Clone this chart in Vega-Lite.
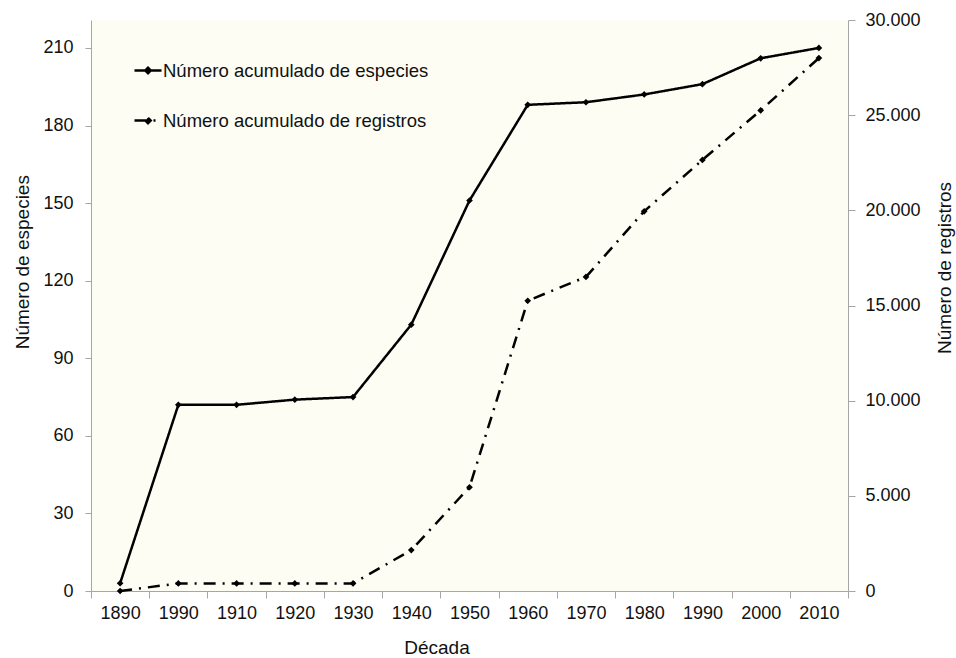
{
  "$schema": "https://vega.github.io/schema/vega-lite/v6.json",
  "width": 757,
  "height": 571,
  "autosize": {"type": "none"},
  "padding": {"left": 91, "top": 20, "right": 108, "bottom": 67},
  "background": "white",
  "datasets": {
    "especies": [
      {"decada": "1890", "serie": "Número acumulado de especies", "valor": 3},
      {"decada": "1990 ", "serie": "Número acumulado de especies", "valor": 72},
      {"decada": "1910", "serie": "Número acumulado de especies", "valor": 72},
      {"decada": "1920", "serie": "Número acumulado de especies", "valor": 74},
      {"decada": "1930", "serie": "Número acumulado de especies", "valor": 75},
      {"decada": "1940", "serie": "Número acumulado de especies", "valor": 103},
      {"decada": "1950", "serie": "Número acumulado de especies", "valor": 151},
      {"decada": "1960", "serie": "Número acumulado de especies", "valor": 188},
      {"decada": "1970", "serie": "Número acumulado de especies", "valor": 189},
      {"decada": "1980", "serie": "Número acumulado de especies", "valor": 192},
      {"decada": "1990", "serie": "Número acumulado de especies", "valor": 196},
      {"decada": "2000", "serie": "Número acumulado de especies", "valor": 206},
      {"decada": "2010", "serie": "Número acumulado de especies", "valor": 210}
    ],
    "registros": [
      {"decada": "1890", "serie": "Número acumulado de registros", "valor": 0},
      {"decada": "1990 ", "serie": "Número acumulado de registros", "valor": 400},
      {"decada": "1910", "serie": "Número acumulado de registros", "valor": 400},
      {"decada": "1920", "serie": "Número acumulado de registros", "valor": 400},
      {"decada": "1930", "serie": "Número acumulado de registros", "valor": 400},
      {"decada": "1940", "serie": "Número acumulado de registros", "valor": 2150},
      {"decada": "1950", "serie": "Número acumulado de registros", "valor": 5450},
      {"decada": "1960", "serie": "Número acumulado de registros", "valor": 15250},
      {"decada": "1970", "serie": "Número acumulado de registros", "valor": 16500},
      {"decada": "1980", "serie": "Número acumulado de registros", "valor": 19950},
      {"decada": "1990", "serie": "Número acumulado de registros", "valor": 22650},
      {"decada": "2000", "serie": "Número acumulado de registros", "valor": 25250},
      {"decada": "2010", "serie": "Número acumulado de registros", "valor": 28000}
    ]
  },
  "encoding": {
    "x": {
      "field": "decada",
      "type": "ordinal",
      "sort": null,
      "bandPosition": 0.5,
      "scale": {"type": "band", "paddingInner": 0, "paddingOuter": 0},
      "axis": {
        "title": "Década",
        "labelAngle": 0,
        "tickBand": "extent",
        "tickSize": 7,
        "labelPadding": 6,
        "titleX": 345.5,
        "titleY": 62,
        "titleBaseline": "alphabetic",
        "titleAlign": "center"
      }
    }
  },
  "layer": [
    {
      "data": {"name": "especies"},
      "layer": [
        {
          "mark": {"type": "line", "color": "black", "strokeWidth": 2.5},
          "encoding": {
            "y": {
              "field": "valor",
              "type": "quantitative",
              "scale": {"domain": [0, 220.8], "nice": false},
              "axis": {
                "orient": "left",
                "values": [0, 30, 60, 90, 120, 150, 180, 210],
                "title": "Número de especies",
                "tickSize": 6,
                "labelPadding": 12,
                "titleAngle": -90,
                "titleX": -63,
                "titleY": 241.7,
                "titleBaseline": "alphabetic",
                "titleAlign": "center"
              }
            },
            "strokeDash": {
              "field": "serie",
              "type": "nominal",
              "scale": {
                "domain": ["Número acumulado de especies", "Número acumulado de registros"],
                "range": [[1, 0], [12, 7, 2, 7]]
              },
              "legend": {
                "orient": "none",
                "legendX": 42,
                "legendY": 35.5,
                "title": null,
                "symbolType": "M-1,0H1M0,-0.2L0.2,0L0,0.2L-0.2,0Z",
                "symbolSize": 729,
                "symbolStrokeWidth": 2.5,
                "symbolStrokeColor": "black",
                "symbolFillColor": "black",
                "labelFontSize": 18.5,
                "labelColor": "#111111",
                "labelOffset": 0,
                "rowPadding": 25,
                "padding": 0,
                "labelLimit": 500
              }
            }
          }
        },
        {
          "mark": {"type": "point", "shape": "diamond", "filled": true, "color": "black", "size": 45, "opacity": 1},
          "encoding": {
            "y": {"field": "valor", "type": "quantitative"}
          }
        }
      ]
    },
    {
      "data": {"name": "registros"},
      "layer": [
        {
          "mark": {"type": "line", "color": "black", "strokeWidth": 2.5},
          "encoding": {
            "y": {
              "field": "valor",
              "type": "quantitative",
              "scale": {"domain": [0, 30000], "nice": false},
              "axis": {
                "orient": "right",
                "values": [0, 5000, 10000, 15000, 20000, 25000, 30000],
                "format": ",d",
                "title": "Número de registros",
                "tickSize": 7,
                "labelPadding": 10,
                "titleAngle": -90,
                "titleX": 102,
                "titleY": 247.5,
                "titleBaseline": "alphabetic",
                "titleAlign": "center"
              }
            },
            "strokeDash": {"field": "serie", "type": "nominal"}
          }
        },
        {
          "mark": {"type": "point", "shape": "diamond", "filled": true, "color": "black", "size": 45, "opacity": 1},
          "encoding": {
            "y": {"field": "valor", "type": "quantitative"}
          }
        }
      ]
    }
  ],
  "resolve": {"scale": {"y": "independent"}},
  "config": {
    "font": "Liberation Sans",
    "view": {"fill": "#fdfdf4", "stroke": null},
    "locale": {
      "number": {"decimal": ",", "thousands": ".", "grouping": [3], "currency": ["", " €"]}
    },
    "axis": {
      "grid": false,
      "domainColor": "#a6a6a6",
      "tickColor": "#a6a6a6",
      "labelColor": "#111111",
      "titleColor": "#111111",
      "labelFontSize": 18,
      "titleFontSize": 19,
      "titleFontWeight": "normal"
    }
  }
}
